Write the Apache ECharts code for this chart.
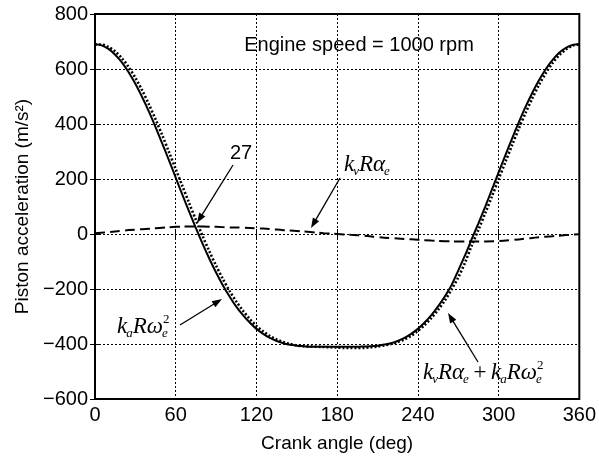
<!DOCTYPE html>
<html><head><meta charset="utf-8">
<script src="https://cdn.jsdelivr.net/npm/echarts@6/dist/echarts.min.js"></script>
<style>html,body{margin:0;padding:0;background:#fff}#c{width:599px;height:462px}</style>
</head><body><div id="c"></div>
<script>
// ---- data ----
const angles = [0,5,10,15,20,25,30,35,40,45,50,55,60,65,70,75,80,85,90,95,100,105,110,115,120,125,130,135,140,145,150,155,160,165,170,175,180,185,190,195,200,205,210,215,220,225,230,235,240,245,250,255,260,265,270,275,280,285,290,295,300,305,310,315,320,325,330,335,340,345,350,355,360];
// kvRae + kaRwe^2 (solid)
const totalAccel = [690,686,673,652,624,588,546,498,446,389,329,268,205,142,81,21,-36,-90,-140,-186,-227,-264,-295,-322,-345,-363,-378,-389,-397,-403,-406,-408,-410,-410,-410,-410,-410,-410,-410,-410,-409,-408,-406,-402,-397,-389,-378,-363,-345,-322,-295,-263,-227,-186,-133,-78,-19,39,99,161,224,286,347,406,462,513,559,599,632,659,677,687,690];
// kaRwe^2 (dotted)
const inertiaAccel = [689,689,680,664,639,607,568,523,472,417,359,298,236,174,112,51,-8,-63,-115,-163,-207,-245,-279,-309,-334,-354,-371,-383,-393,-400,-405,-408,-409,-410,-411,-412,-413,-414,-414,-414,-414,-412,-409,-405,-400,-393,-383,-370,-352,-331,-306,-276,-242,-202,-158,-105,-42,15,75,136,199,261,323,383,440,493,542,584,621,650,671,685,690];
// kvRae (dashed)
const velAngles = [0,10,20,30,40,50,60,70,80,90,100,110,120,130,140,150,160,170,180,190,200,210,220,230,240,250,260,270,280,290,300,310,320,330,340,350,360];
const velAccel = [3,7,12,16,19,23,26,27,27,26,24,23,21,18,14,11,7,3,0,-3,-6,-11,-15,-18,-21,-24,-26,-27,-27,-27,-26,-22,-17,-12,-8,-4,-1];
const xTickValues = [0,60,120,180,240,300,360];
const yTickValues = [-600,-400,-200,0,200,400,600,800];
const xTitle = 'Crank angle (deg)';
const yTitle = 'Piston acceleration (m/s\u00B2)';
const engineNote = 'Engine speed = 1000 rpm';
const peakNote = '27';

const SANS = '"Liberation Sans", Arial, Helvetica, sans-serif';
const SERIF = '"Liberation Serif", "Times New Roman", serif';
const chart = echarts.init(document.getElementById('c'), null, {renderer:'canvas'});

const zip = (a,b) => a.map((v,i)=>[v,b[i]]);
const fmtY = v => String(v).replace('-', '\u2212');

const mctx = document.createElement('canvas').getContext('2d');
function tw(t, font){ mctx.font = font; return mctx.measureText(t).width; }
function txt(s, x, base, size, font){
  return {type:'text', z:100, silent:true, style:{text:s, x:x, y:base - 0.32*size, font:font, fill:'#000', align:'left', verticalAlign:'middle'}};
}
function mathLabel(x, base, size, parts){
  const els = []; let cx = x;
  const ss = Math.round(size*0.58);
  const big = 'italic ' + size + 'px ' + SERIF;
  const up = 'normal ' + size + 'px ' + SERIF;
  const sm = 'italic ' + ss + 'px ' + SERIF;
  const smUp = 'normal ' + ss + 'px ' + SERIF;
  parts.forEach(p => {
    if (p[0] === 'i') { els.push(txt(p[1], cx, base, size, big)); cx += tw(p[1], big); }
    else if (p[0] === 'n') { els.push(txt(p[1], cx, base, size, up)); cx += tw(p[1], up); }
    else if (p[0] === 'sub') { els.push(txt(p[1], cx - 1, base + 4, ss, sm)); cx += tw(p[1], sm) - 1; }
    else if (p[0] === 'subsup') {
      els.push(txt(p[1], cx - 1, base + 4, ss, sm));
      els.push(txt(p[2], cx, base - 10, ss, smUp));
      cx += Math.max(tw(p[1], sm), tw(p[2], smUp));
    }
  });
  return els;
}
function arrow(x1, y1, x2, y2){
  const dx = x2-x1, dy = y2-y1, L = Math.hypot(dx,dy), ux = dx/L, uy = dy/L;
  const hl = 10, hw = 3.6;
  const bx = x2 - ux*hl, by = y2 - uy*hl;
  return [
    {type:'line', z:100, silent:true, shape:{x1:x1, y1:y1, x2:bx+ux*2, y2:by+uy*2}, style:{stroke:'#000', lineWidth:1.3}},
    {type:'polygon', z:100, silent:true, shape:{points:[[x2,y2],[bx - uy*hw, by + ux*hw],[bx + uy*hw, by - ux*hw]]}, style:{fill:'#000'}}
  ];
}

const axisFont = {color:'#000', fontSize:19, fontFamily:SANS};
const tickFont = {color:'#000', fontSize:20, fontFamily:SANS};
const split = {show:true, lineStyle:{color:'#000', width:1, type:[2,2]}};
const tick = {show:true, inside:true, length:5, lineStyle:{color:'#000', width:1}};

const graphics = [].concat(
  [{type:'text', z:100, silent:true, style:{text:engineNote, x:359, y:45, font:'20px ' + SANS, fill:'#000', align:'center', verticalAlign:'middle'}}],
  [{type:'text', z:100, silent:true, style:{text:peakNote, x:241, y:153, font:'20px ' + SANS, fill:'#000', align:'center', verticalAlign:'middle'}}],
  arrow(233,165,197,223),
  arrow(340,178,311,228),
  arrow(180,325,222,299),
  arrow(478,362,448,313),
  mathLabel(344, 172, 23, [['i','k'],['sub','v'],['i','R'],['i','\u03B1'],['sub','e']]),
  mathLabel(117, 334, 23, [['i','k'],['sub','a'],['i','R'],['i','\u03C9'],['subsup','e','2']]),
  mathLabel(423, 380, 23, [['i','k'],['sub','v'],['i','R'],['i','\u03B1'],['sub','e'],['n','\u2009+\u2009'],['i','k'],['sub','a'],['i','R'],['i','\u03C9'],['subsup','e','2']])
);

chart.setOption({
  animation:false,
  backgroundColor:'#fff',
  grid:{left:95, right:16, top:14, bottom:63, show:true, borderColor:'#000', borderWidth:2, backgroundColor:'rgba(0,0,0,0)'},
  xAxis:[
    {type:'value', min:xTickValues[0], max:xTickValues[xTickValues.length-1], interval:xTickValues[1]-xTickValues[0],
     axisLine:{show:false}, axisTick:tick, splitLine:split,
     axisLabel:Object.assign({margin:6}, tickFont),
     name:xTitle, nameLocation:'middle', nameGap:35, nameTextStyle:axisFont},
    {type:'value', position:'top', min:xTickValues[0], max:xTickValues[xTickValues.length-1], interval:xTickValues[1]-xTickValues[0],
     axisLine:{show:false}, axisTick:tick, splitLine:{show:false}, axisLabel:{show:false}}
  ],
  yAxis:[
    {type:'value', min:yTickValues[0], max:yTickValues[yTickValues.length-1], interval:yTickValues[1]-yTickValues[0],
     axisLine:{show:false}, axisTick:tick, splitLine:split,
     axisLabel:Object.assign({margin:7, formatter:fmtY}, tickFont),
     name:yTitle, nameLocation:'middle', nameGap:63, nameRotate:90, nameTextStyle:axisFont},
    {type:'value', position:'right', min:yTickValues[0], max:yTickValues[yTickValues.length-1], interval:yTickValues[1]-yTickValues[0],
     axisLine:{show:false}, axisTick:tick, splitLine:{show:false}, axisLabel:{show:false}}
  ],
  series:[
    {name:'kaRwe2', type:'line', data:zip(angles, inertiaAccel), smooth:0.3, symbol:'none', z:3,
     lineStyle:{color:'#000', width:2.6, type:[2,2]}},
    {name:'kvRae', type:'line', data:zip(velAngles, velAccel), smooth:0.4, symbol:'none', z:4,
     lineStyle:{color:'#000', width:2, type:[10,5]}},
    {name:'total', type:'line', data:zip(angles, totalAccel), smooth:0.3, symbol:'none', z:5,
     lineStyle:{color:'#000', width:2}}
  ],
  graphic:graphics
});
</script></body></html>
